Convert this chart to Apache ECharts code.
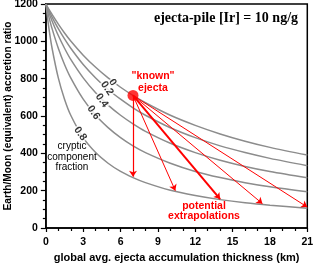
<!DOCTYPE html>
<html><head><meta charset="utf-8">
<script src="https://cdn.jsdelivr.net/npm/echarts@6/dist/echarts.min.js"></script>
<style>html,body{margin:0;padding:0;background:#fff}#c{width:318px;height:264px}</style>
</head><body><div id="c"></div>
<script>
// thickness (km)
const xs = [0,0.25,0.5,1,1.5,2,3,4,5,6,7,8,10,12,14,16,18,21];
// Earth/Moon accretion ratio curves by cryptic component fraction
const curve00 = [1200,1171,1144,1092,1045,1002,926,861,804,754,710,671,604,550,504,465,432,391];
const curve02 = [1200,1164,1130,1068,1013,963,876,804,742,690,644,604,537,484,440,404,373,334];
const curve04 = [1200,1153,1109,1031,963,903,804,724,658,604,558,518,454,404,363,330,303,269];
const curve06 = [1200,1130,1068,963,876,804,690,604,538,484,440,404,347,303,270,243,221,194];
const curve08 = [1200,1068,963,804,690,604,484,404,347,303,270,243,202,174,152,135,122,106];
const curves = [curve00, curve02, curve04, curve06, curve08];
const fractionLabels = ['0','0.2','0.4','0.6','0.8'];
const fractionLabelPos = [[5.36,780],[4.91,748],[4.5,683],[3.83,618],[2.76,505]];
// "known" ejecta point
const knownPoint = [7,710];
// extrapolation arrow end points
const arrowEnds = [[7,275],[10.4,200],[14,155],[17.4,130],[21,112]];
const arrowWidths = [1.2,1,2,1,1];
const xTicks = {min:0,max:21,interval:3};
const yTicks = {min:0,max:1200,interval:200};

const FONT = 'Liberation Sans, Arial, sans-serif';
const RED = '#ff0000';
const chart = echarts.init(document.getElementById('c'), null, {renderer:'canvas'});
const series = [];
curves.forEach((c,i)=>{
  series.push({type:'line', data: xs.map((x,j)=>[x,c[j]]), smooth:0.3, symbol:'none',
    color:'#8c8c8c', lineStyle:{color:'#8c8c8c', width:1.5}, z:2, silent:true});
});
series.push({type:'scatter', symbolSize:0, z:4,
  data: fractionLabelPos.map((p,i)=>[p[0],p[1],fractionLabels[i]]),
  label:{show:true, position:'inside', formatter:p=>p.value[2], rotate:-55,
    fontFamily:FONT, fontWeight:'bold', fontSize:10.5, color:'#000',
    backgroundColor:'#fff', padding:[0,1]}});
series.push({type:'scatter', data:[knownPoint], symbolSize:11, z:6, color:RED,
  itemStyle:{color:RED}, silent:true,
  markLine:{silent:true, symbol:['none','arrow'], symbolSize:6, animation:false, z:5,
    label:{show:false},
    emphasis:{disabled:true},
    data: arrowEnds.map((e,i)=>[
      {coord:knownPoint, lineStyle:{color:RED, width:arrowWidths[i], type:'solid', opacity:1}},
      {coord:e}
    ]),
    lineStyle:{color:RED, width:1, type:'solid', opacity:1}}});

chart.setOption({
  animation:false,
  grid:{left:45.85, right:10.7, top:4, bottom:36, outerBoundsMode:'none', containLabel:false,
    show:true, borderColor:'#000', borderWidth:1.5},
  xAxis:{type:'value', min:xTicks.min, max:xTicks.max, interval:xTicks.interval,
    name:'global avg. ejecta accumulation thickness (km)', nameLocation:'middle', nameGap:24,
    nameMoveOverlap:false,
    nameTextStyle:{fontFamily:FONT, fontWeight:'bold', fontSize:11, color:'#000'},
    axisLine:{lineStyle:{color:'#000', width:1.5}},
    axisTick:{length:4, lineStyle:{color:'#000', width:1.2}},
    minorTick:{show:true, splitNumber:3, length:3, lineStyle:{color:'#000', width:1.2}},
    splitLine:{show:false},
    axisLabel:{fontFamily:FONT, fontWeight:'bold', fontSize:10.5, color:'#000', margin:9,
      formatter:v=>String(v)}},
  yAxis:{type:'value', min:yTicks.min, max:yTicks.max, interval:yTicks.interval,
    name:'Earth/Moon (equivalent) accretion ratio', nameLocation:'middle', nameGap:33,
    nameMoveOverlap:false,
    nameTextStyle:{fontFamily:FONT, fontWeight:'bold', fontSize:10.2, color:'#000'},
    axisLine:{lineStyle:{color:'#000', width:1.5}},
    axisTick:{length:5, lineStyle:{color:'#000', width:1.2}},
    minorTick:{show:true, splitNumber:4, length:3, lineStyle:{color:'#000', width:1.2}},
    splitLine:{show:false},
    axisLabel:{fontFamily:FONT, fontWeight:'bold', fontSize:10.5, color:'#000', margin:8,
      formatter:v=>String(v)}},
  graphic:[
    {type:'text', x:226, y:18, style:{text:'ejecta-pile [Ir] = 10 ng/g', fill:'#000',
      font:'bold 14px "Liberation Serif", "Times New Roman", serif', textAlign:'center', textVerticalAlign:'middle'}},
    {type:'text', x:153, y:82, style:{text:'"known"\nejecta', fill:RED,
      font:'bold 10.5px '+FONT, textAlign:'center', textVerticalAlign:'middle', lineHeight:12.5}},
    {type:'text', x:204, y:211, style:{text:'potential\nextrapolations', fill:RED,
      font:'bold 10.5px '+FONT, textAlign:'center', textVerticalAlign:'middle', lineHeight:10.5}},
    {type:'text', x:72, y:157, style:{text:'cryptic\ncomponent\nfraction', fill:'#000',
      font:'10px '+FONT, textAlign:'center', textVerticalAlign:'middle', lineHeight:10.3}}
  ],
  series
});
</script></body></html>
